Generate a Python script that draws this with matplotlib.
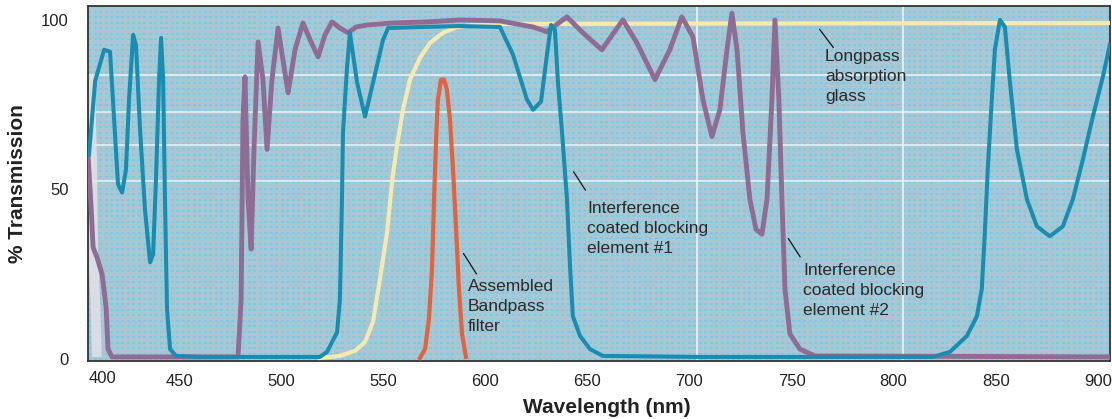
import numpy as np
import matplotlib.pyplot as plt
import matplotlib.colors as mcolors

plt.rcParams['font.family'] = ['Liberation Sans', 'DejaVu Sans']

# wavelength (nm) and % transmission
blk1_nm = [405.9, 408.9, 413.3, 416.2, 418.2, 420.1, 422.1, 424.0, 425.5, 427.5, 428.9,
           430.9, 433.3, 435.8, 437.3, 438.7, 440.2, 441.2, 442.2, 443.1, 444.1, 445.6,
           448.5, 460.3, 519.0, 522.5, 527.4, 528.8, 529.8, 530.3, 532.3, 533.7, 537.2,
           541.1, 545.0, 549.9, 552.4, 568.0, 587.6, 607.2, 613.6, 620.4, 623.4, 627.3,
           630.2, 632.2, 634.1, 635.6, 637.6, 640.0, 641.5, 642.9, 646.4, 651.3, 657.6,
           705.1, 819.2, 827.6, 835.9, 840.8, 843.2, 844.7, 846.2, 848.1, 849.6, 852.1,
           854.5, 857.0, 860.4, 865.3, 870.2, 876.5, 882.9, 887.8, 892.7, 897.6, 902.5, 905.9]
blk1_t = [60.3, 82.0, 91.2, 90.6, 70.6, 51.5, 49.1, 55.9, 76.5, 95.6, 92.6,
          67.6, 44.1, 28.5, 30.9, 52.9, 82.4, 94.7, 82.4, 47.1, 14.7, 2.9,
          0.9, 0.6, 0.6, 2.1, 7.9, 17.6, 47.1, 66.8, 86.2, 96.2, 81.5,
          71.5, 81.5, 94.1, 97.6, 97.9, 98.2, 97.9, 89.7, 76.5, 73.5, 75.9,
          89.7, 98.5, 97.1, 81.5, 66.8, 47.1, 27.4, 12.6, 6.8, 2.9, 0.9,
          0.6, 0.6, 2.1, 6.8, 12.6, 20.6, 37.4, 56.8, 76.5, 91.2, 100.0,
          97.9, 81.5, 61.8, 47.1, 39.1, 36.2, 39.1, 47.1, 58.8, 71.5, 83.2, 92.6]

blk2_nm = [405.4, 406.9, 407.9, 409.8, 412.3, 414.3, 415.2, 417.2, 478.9, 480.4, 481.3,
           482.3, 483.8, 485.3, 486.7, 488.7, 491.1, 493.1, 495.5, 498.5, 500.9, 503.4,
           506.8, 510.7, 514.2, 518.1, 521.5, 524.9, 528.8, 532.8, 536.7, 542.1, 554.8,
           571.4, 587.6, 607.2, 623.4, 630.2, 640.0, 647.8, 657.1, 667.4, 674.3, 683.1,
           690.4, 696.3, 701.7, 706.6, 711.0, 714.9, 718.4, 720.8, 723.3, 726.2, 729.6,
           732.6, 735.5, 738.0, 740.4, 741.9, 743.8, 745.3, 746.8, 749.2, 754.1, 761.5, 905.9]
blk2_t = [60.3, 45.0, 32.9, 30.0, 25.0, 15.0, 2.9, 0.6, 0.6, 17.6, 70.6,
          83.2, 47.0, 32.4, 61.8, 93.5, 82.4, 61.8, 82.4, 97.6, 88.2, 78.5,
          91.2, 99.1, 94.1, 89.1, 95.6, 99.4, 97.6, 96.2, 97.9, 98.5, 99.1,
          99.4, 100.0, 99.7, 97.9, 96.5, 100.9, 96.2, 91.2, 100.0, 93.2, 82.4,
          91.2, 100.9, 95.0, 76.5, 65.6, 73.5, 91.2, 102.0, 91.2, 66.8, 47.1,
          38.2, 36.8, 47.1, 76.5, 100.0, 76.5, 47.1, 20.6, 7.4, 2.9, 0.9, 0.6]

glass_nm = [519.0, 528.8, 536.2, 541.1, 545.0, 548.4, 551.9, 554.3, 556.8, 559.7, 563.1,
            568.0, 572.9, 579.3, 586.1, 597.4, 905.9]
glass_t = [0.3, 0.9, 2.4, 5.0, 10.9, 23.5, 37.4, 52.1, 63.2, 73.5, 82.4,
           88.8, 93.2, 96.2, 97.9, 98.8, 99.1]

bp_nm = [568.0, 570.5, 572.4, 573.9, 574.9, 575.9, 576.8, 578.3, 579.8, 581.2, 582.7,
         584.2, 585.7, 587.1, 588.6, 590.5]
bp_t = [0.3, 2.9, 11.8, 26.5, 47.1, 64.7, 76.5, 82.4, 82.4, 79.4, 70.6,
        55.9, 38.2, 20.6, 7.4, 0.6]

# pale smear at the far left edge
uv_nm = [406.4, 407.4, 407.9, 408.9, 409.8]
uv_t = [83.8, 58.8, 32.0, 17.6, 0.6]

tick_vals = [450, 500, 550, 600, 650, 700, 750, 800, 850, 900]
ytick_vals = [0, 50, 100]

xmin, xmax = 405.4, 906.0
ymin, ymax = -0.6, 104.1

fig = plt.figure(figsize=(11.12, 4.19), dpi=100)
ax = fig.add_axes([88 / 1112, 1 - 361 / 419, 1022 / 1112, 355 / 419])

# dotted screen-print background
h, w = 355, 1022
yy, xx = np.indices((h, w))
dots = (((xx % 11) % 6) < 3) & (((yy % 11) % 6) < 2)
base = np.array(mcolors.to_rgb('#a9c7d3'))
dotc = np.array(mcolors.to_rgb('#7ccbe6'))
img = np.where(dots[..., None], dotc, base)
ax.imshow(img, extent=(xmin, xmax, ymin, ymax), aspect='auto',
          interpolation='nearest', zorder=0)

# faint white guide lines
for yv in [83.8, 72.9, 63.2, 52.4]:
    ax.axhline(yv, color='#eef3f6', lw=1.4, alpha=0.8, zorder=1)
for xv in [703.7, 804.5]:
    ax.axvline(xv, color='#eef6fa', lw=1.4, alpha=0.8, zorder=1)

ax.plot(uv_nm, uv_t, color='#e4e0e8', lw=7, alpha=0.85, zorder=2, solid_capstyle='butt')
ax.plot(glass_nm, glass_t, color='#f6eab0', lw=3.0, zorder=3)
ax.plot(blk2_nm, blk2_t, color='#8e6c93', lw=3.5, zorder=4)
ax.plot(blk1_nm, blk1_t, color='#188db0', lw=2.9, zorder=5)
ax.plot(bp_nm, bp_t, color='#e4623e', lw=3.0, zorder=6)

ax.set_xlim(xmin, xmax)
ax.set_ylim(ymin, ymax)
ax.set_xticks(tick_vals)
ax.set_yticks(ytick_vals)
ax.tick_params(length=0, labelsize=12, colors='#222222')
ax.tick_params(axis='x', pad=9)
ax.tick_params(axis='y', pad=14)
ax.text(0.0137, -0.028, '400', transform=ax.transAxes, ha='center', va='top',
        fontsize=12, color='#222222')
for s in ax.spines.values():
    s.set_color('#333333')
    s.set_linewidth(1.3)

# callouts
txt = dict(fontsize=12.5, color='#2a2a2a', ha='left', va='center', linespacing=1.42, zorder=8)
line = dict(arrowstyle='-', color='#111111', lw=0.9)
ax.annotate('', xy=(762.9, 97.9), xytext=(771.3, 91.2), arrowprops=line, zorder=8)
ax.text(766.4, 83.2, 'Longpass\nabsorption\nglass', **txt)
ax.annotate('', xy=(642.5, 55.9), xytext=(649.8, 49.1), arrowprops=line, zorder=8)
ax.text(649.8, 38.5, 'Interference\ncoated blocking\nelement #1', **txt)
ax.annotate('', xy=(747.7, 36.2), xytext=(755.0, 29.4), arrowprops=line, zorder=8)
ax.text(755.6, 20.3, 'Interference\ncoated blocking\nelement #2', **txt)
ax.annotate('', xy=(588.6, 31.8), xytext=(596.4, 24.4), arrowprops=line, zorder=8)
ax.text(591.5, 15.6, 'Assembled\nBandpass\nfilter', **txt)

fig.text(607 / 1112, 1 - 407 / 419, 'Wavelength (nm)', ha='center', va='center',
         fontsize=15, fontweight='bold', color='#222222')
fig.text(18 / 1112, 1 - 184 / 419, '% Transmission', ha='center', va='center',
         rotation=90, fontsize=15, fontweight='bold', color='#222222')

fig.savefig('out.png', dpi=100)
